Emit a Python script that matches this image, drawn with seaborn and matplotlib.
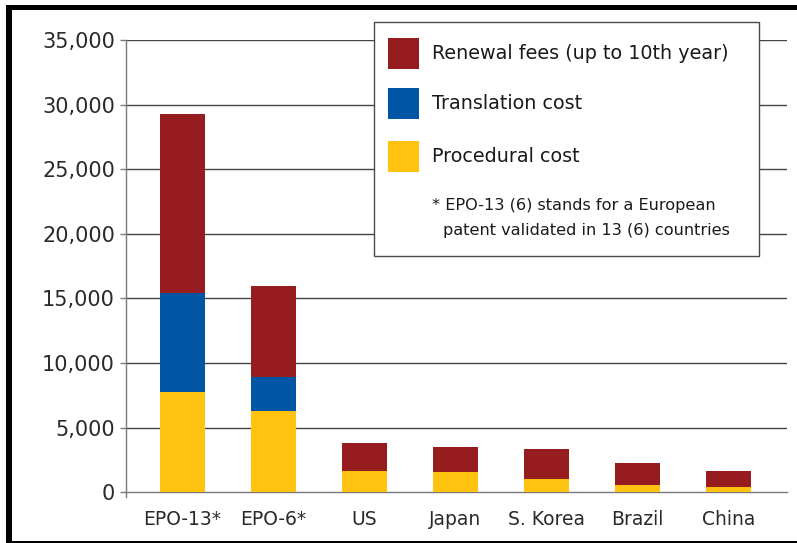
import matplotlib
matplotlib.use("Agg")
import matplotlib.pyplot as plt
import seaborn as sns
import pandas as pd
from matplotlib.patches import Rectangle
from matplotlib.ticker import FuncFormatter

categories = ["EPO-13*", "EPO-6*", "US", "Japan", "S. Korea", "Brazil", "China"]
procedural = [7800, 6300, 1650, 1550, 1000, 550, 400]
translation = [7600, 2600, 0, 0, 0, 0, 0]
renewal = [13900, 7100, 2150, 1950, 2350, 1700, 1250]
series_names = ["Renewal fees (up to 10th year)", "Translation cost", "Procedural cost"]
note_lines = ["* EPO-13 (6) stands for a European", "patent validated in 13 (6) countries"]
yticks = [0, 5000, 10000, 15000, 20000, 25000, 30000, 35000]

RED, BLUE, YELLOW = "#961C1F", "#0055A5", "#FFC20E"

df = pd.DataFrame({"cat": categories, "proc": procedural, "trans": translation, "ren": renewal})
df["lvl2"] = df["proc"] + df["trans"]
df["total"] = df["lvl2"] + df["ren"]

sns.set_theme(style="white")
plt.rcParams["font.family"] = ["DejaVu Sans"]

fig = plt.figure(figsize=(7.97, 5.43), dpi=100)
ax = fig.add_axes([126 / 797, 1 - 492.3 / 543, (786.7 - 126) / 797, (492.3 - 40) / 543])

sns.barplot(data=df, x="cat", y="total", color=RED, width=0.5, saturation=1, ax=ax, zorder=3)
sns.barplot(data=df, x="cat", y="lvl2", color=BLUE, width=0.5, saturation=1, ax=ax, zorder=3)
sns.barplot(data=df, x="cat", y="proc", color=YELLOW, width=0.5, saturation=1, ax=ax, zorder=3)
for p in ax.patches:
    p.set_edgecolor("none")

ax.set_xlim(-0.62, 6.64)
ax.set_ylim(0, 35000)
ax.set_yticks(yticks)
ax.yaxis.set_major_formatter(FuncFormatter(lambda v, _: f"{int(v):,}"))
ax.set_xlabel("")
ax.set_ylabel("")
for y in yticks[1:]:
    ax.axhline(y, color="#444444", lw=1.0, zorder=1)

for s in ["top", "right"]:
    ax.spines[s].set_visible(False)
ax.spines["left"].set_color("#7a7a7a")
ax.spines["bottom"].set_color("#7a7a7a")
ax.spines["left"].set_linewidth(1.0)
ax.spines["bottom"].set_linewidth(1.0)
ax.spines["left"].set_bounds(-400, 35000)

ax.tick_params(axis="y", left=True, length=4, width=1, color="#7a7a7a", pad=4,
               labelsize=15, labelcolor="#2a2a2a")
ax.tick_params(axis="x", bottom=False, pad=7, labelsize=13.5, labelcolor="#2a2a2a")

# Legend box
W, H = 797, 543
fig.patches.append(Rectangle((374 / W, 1 - 256 / H), (759 - 374) / W, (256 - 22) / H,
                             transform=fig.transFigure, facecolor="white",
                             edgecolor="#4a4a4a", lw=1.0, zorder=2))
colors = [RED, BLUE, YELLOW]
sq_y = [38, 88, 141]
for c, y0, name in zip(colors, sq_y, series_names):
    fig.patches.append(Rectangle((388 / W, 1 - (y0 + 31) / H), 31 / W, 31 / H,
                                 transform=fig.transFigure, facecolor=c,
                                 edgecolor="none", zorder=3))
    fig.text(432 / W, 1 - (y0 + 15.5) / H, name, fontsize=13.8, color="#1a1a1a",
             va="center", ha="left", zorder=4)
fig.text(432 / W, 1 - 206 / H, note_lines[0], fontsize=11.6, color="#1a1a1a",
         va="center", ha="left", zorder=4)
fig.text(443 / W, 1 - 231 / H, note_lines[1], fontsize=11.6, color="#1a1a1a",
         va="center", ha="left", zorder=4)

# Outer frame lines
fig.patches.append(Rectangle((6 / W, 0), 6 / W, 1 - 5 / H, transform=fig.transFigure,
                             facecolor="black", edgecolor="none", zorder=5))
fig.patches.append(Rectangle((6 / W, 1 - 10 / H), 1 - 6 / W, 5 / H, transform=fig.transFigure,
                             facecolor="black", edgecolor="none", zorder=5))
fig.patches.append(Rectangle((6 / W, 1 - 543 / H), 1 - 6 / W, 2 / H, transform=fig.transFigure,
                             facecolor="black", edgecolor="none", zorder=5))

fig.savefig("out.png", dpi=100)
